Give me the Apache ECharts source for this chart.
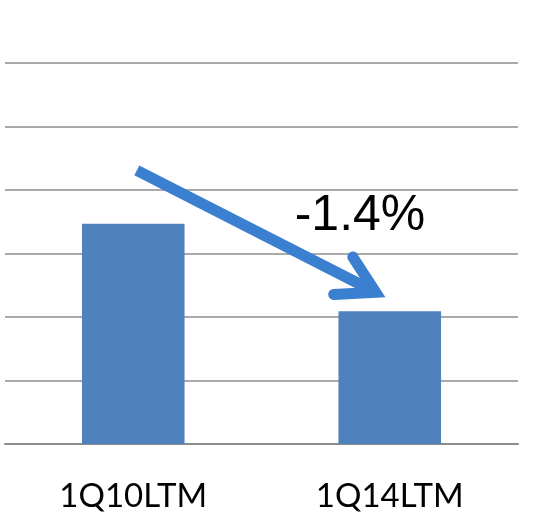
<!DOCTYPE html>
<html>
<head>
<meta charset="utf-8">
<script src="https://cdn.jsdelivr.net/npm/echarts@6/dist/echarts.min.js"></script>
<style>
  html, body { margin: 0; padding: 0; background: #fff; }
  #main { width: 536px; height: 513px; }
</style>
</head>
<body>
<div id="main"></div>
<script>
// data
const categories = ['1Q10LTM', '1Q14LTM']
const values = [3.47, 2.09]
const changeLabel = '-1.4%'
// arrow in data space: [category position, value]
const arrowFrom = [0.014, 4.31]
const arrowTo = [0.945, 2.39]

const chart = echarts.init(document.getElementById('main'))

const option = {
    animation: false,
    grid: { left: 5, right: 18, top: 63, bottom: 66 },
    xAxis: {
        type: 'category',
        data: categories,
        axisLine: { lineStyle: { color: '#8c8c8c', width: 2 } },
        axisTick: { length: 11, lineStyle: { color: '#8c8c8c', width: 2 } },
        axisLabel: {
            color: '#000',
            fontFamily: 'Lato',
            fontSize: 33,
            margin: 36
        }
    },
    yAxis: {
        type: 'value',
        min: 0,
        max: 6,
        interval: 1,
        axisLabel: { show: false },
        axisLine: { show: false },
        axisTick: { show: false },
        splitLine: { lineStyle: { color: '#8c8c8c', width: 1.5 } }
    },
    series: [
        {
            type: 'bar',
            data: values,
            barWidth: '40%',
            itemStyle: { color: '#4f81bd' }
        }
    ]
}
chart.setOption(option)

// arrow + label, positioned from data coordinates
function toPx(p) {
    const a = chart.convertToPixel({ xAxisIndex: 0, yAxisIndex: 0 }, [0, p[1]])
    const b = chart.convertToPixel({ xAxisIndex: 0, yAxisIndex: 0 }, [1, p[1]])
    return [a[0] + (b[0] - a[0]) * p[0], a[1]]
}
const s = toPx(arrowFrom)
const t = toPx(arrowTo)
const ang = Math.atan2(s[1] - t[1], s[0] - t[0])
const headLen = 42
const spread = 30 * Math.PI / 180
const b1 = [t[0] + headLen * Math.cos(ang - spread), t[1] + headLen * Math.sin(ang - spread)]
const b2 = [t[0] + headLen * Math.cos(ang + spread), t[1] + headLen * Math.sin(ang + spread)]
const blue = '#3b7fd0'

chart.setOption({
    graphic: [
        {
            type: 'line',
            shape: { x1: s[0], y1: s[1], x2: t[0], y2: t[1] },
            style: { stroke: blue, lineWidth: 11, lineCap: 'butt' }
        },
        {
            type: 'polyline',
            shape: { points: [b1, t, b2] },
            style: { stroke: blue, lineWidth: 11, lineCap: 'round', lineJoin: 'miter', fill: null }
        },
        {
            type: 'text',
            x: 360,
            y: 216,
            style: {
                text: changeLabel,
                fill: '#000',
                font: '50px "Liberation Sans", Arial, sans-serif',
                align: 'center',
                verticalAlign: 'middle'
            }
        }
    ]
})
</script>
</body>
</html>
